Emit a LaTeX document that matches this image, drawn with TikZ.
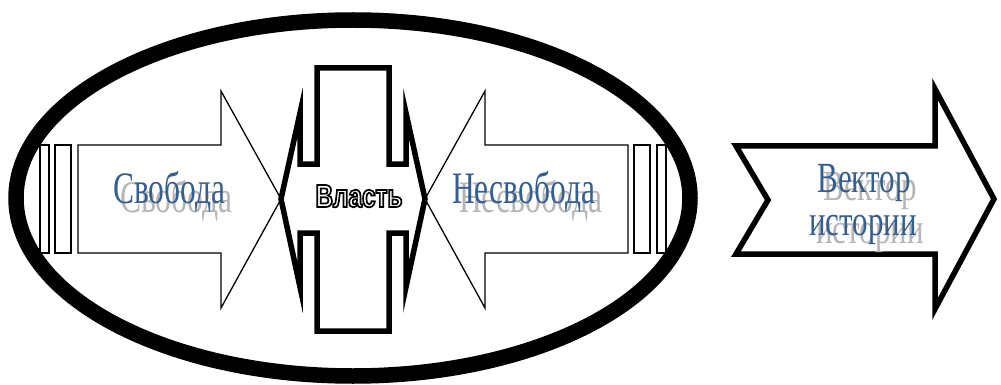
\documentclass[tikz,border=0pt]{standalone}
\usepackage{fontspec}
\setmainfont{Liberation Serif}
\newfontfamily\labelfont[FakeStretch=0.70]{Liberation Serif}
\newfontfamily\vectorfont[FakeStretch=0.72]{Liberation Serif}
\newfontfamily\powerfont[FakeStretch=0.76]{Liberation Sans}
\usetikzlibrary{positioning}
\definecolor{wordblue}{HTML}{365F91}
\definecolor{shadowgray}{HTML}{B5B5B5}
\newcommand\outlined[1]{\special{pdf:literal q 1 Tr 1.7 w 0 0 0 RG}#1\special{pdf:literal Q}}

\begin{document}
\begin{tikzpicture}[
  x=1pt,y=-1pt,
  thinarrow/.style={draw,fill=white,line width=1.3pt,line join=miter},
  fatshape/.style={draw,fill=white,line width=5.5pt,line join=miter},
  lbl/.style={inner sep=0pt,anchor=base west,text=wordblue,font=\labelfont\fontsize{45}{48}\selectfont},
  lblshadow/.style={lbl,text=shadowgray},
  vlbl/.style={inner sep=0pt,anchor=base,text=wordblue,font=\vectorfont\fontsize{43}{46}\selectfont},
  vlblshadow/.style={vlbl,text=shadowgray},
  powertxt/.style={inner sep=0pt,anchor=base,font=\powerfont\bfseries\fontsize{32}{34}\selectfont}
]
\useasboundingbox (0,0) rectangle (1001,385);

% Svoboda arrow
\draw[thinarrow] (40,145) rectangle (49,253);
\draw[thinarrow] (55,145) rectangle (71,253);
\draw[thinarrow] (78,145) -- (221,145) -- (221,91) -- (281,199) -- (221,308) -- (221,253) -- (78,253) -- cycle;

% Nesvoboda arrow
\draw[thinarrow] (657,145) rectangle (666,253);
\draw[thinarrow] (634,145) rectangle (650,253);
\draw[thinarrow] (628,145) -- (485,145) -- (485,91) -- (425,199) -- (485,308) -- (485,253) -- (628,253) -- cycle;

% Vlast cross
\draw[fatshape] (317,68) -- (389,68) -- (389,164) -- (406,164) -- (406,113) -- (425,199)
  -- (406,287) -- (406,233) -- (389,233) -- (389,331) -- (317,331) -- (317,233)
  -- (300,233) -- (300,287) -- (281,199) -- (300,113) -- (300,164) -- (317,164) -- cycle;

% labels
\node[lblshadow] (svobodaS) at (120,212) {Свобода};
\node[lbl] (svoboda) at (113,203) {Свобода};
\node[lblshadow] (nesvobodaS) at (459,212) {Несвобода};
\node[lbl] (nesvoboda) at (452,203) {Несвобода};
\node[powertxt] (vlast) at (359,207) {\outlined{Власть}};

% ellipse
\draw[line width=15.5pt] (353,198) ellipse [x radius=337,y radius=178];

% vector of history
\draw[fatshape] (736,146) -- (935,146) -- (935,89) -- (994,199) -- (935,309) -- (935,254)
  -- (736,254) -- (768,200) -- cycle;
\node[vlblshadow] (vektorS) at (870,200) {Вектор};
\node[vlbl] (vektor) at (864,192) {Вектор};
\node[vlblshadow] (istoriiS) at (870,243) {истории};
\node[vlbl] (istorii) at (863,235) {истории};
\end{tikzpicture}
\end{document}
